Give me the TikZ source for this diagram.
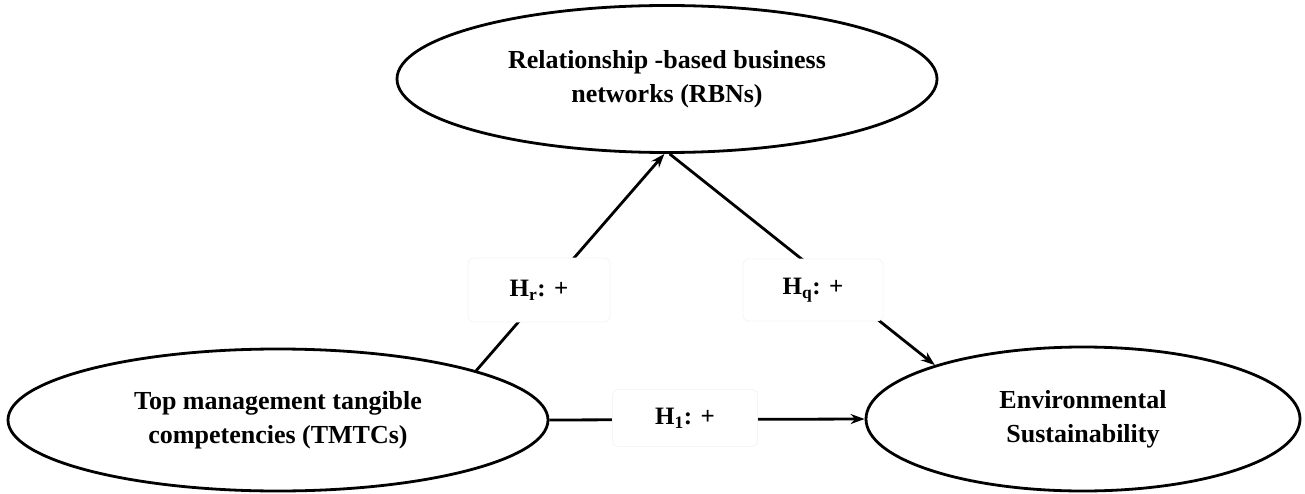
\documentclass[tikz,border=0pt]{standalone}
\usepackage{fontspec}
\setmainfont{Liberation Serif}
\usetikzlibrary{shapes.geometric,arrows.meta}
\begin{document}
\begin{tikzpicture}[x=1pt,y=-1pt,
  latent/.style={ellipse,draw=black,line width=2.8pt,inner sep=0pt,align=center,
    font=\fontsize{26}{34}\selectfont\bfseries},
  conn/.style={line width=2.8pt,-{Stealth[length=14pt,width=10pt]}},
  hlabel/.style={fill=white,draw=black!4,line width=0.8pt,rounded corners=6pt,inner sep=0pt,
    font=\fontsize{25}{28}\selectfont\bfseries}]
\useasboundingbox[fill=white] (0,0) rectangle (1305,494);
% constructs
\node[latent,minimum width=540pt,minimum height=147pt] (rbn) at (667,79)
  {Relationship -based business\\networks  (RBNs)};
\node[latent,minimum width=540pt,minimum height=142pt] (tmtc) at (278,420)
  {Top management tangible\\competencies (TMTCs)};
\node[latent,minimum width=434pt,minimum height=144pt] (env) at (1083,419)
  {Environmental\\Sustainability};
% paths
\draw[conn] (tmtc.14.7) -- (rbn.268);
\draw[conn] (rbn.272) -- (env.160);
\draw[conn] (tmtc.east) -- (env.west);
% hypothesis labels
\node[hlabel,minimum width=142pt,minimum height=64pt] (hr) at (539,290) {H\textsubscript{r}: +};
\node[hlabel,minimum width=140pt,minimum height=62pt] (hq) at (813,290) {H\textsubscript{q}: +};
\node[hlabel,minimum width=145pt,minimum height=57pt] (h1) at (685,418) {H\textsubscript{1}: +};
\end{tikzpicture}
\end{document}
